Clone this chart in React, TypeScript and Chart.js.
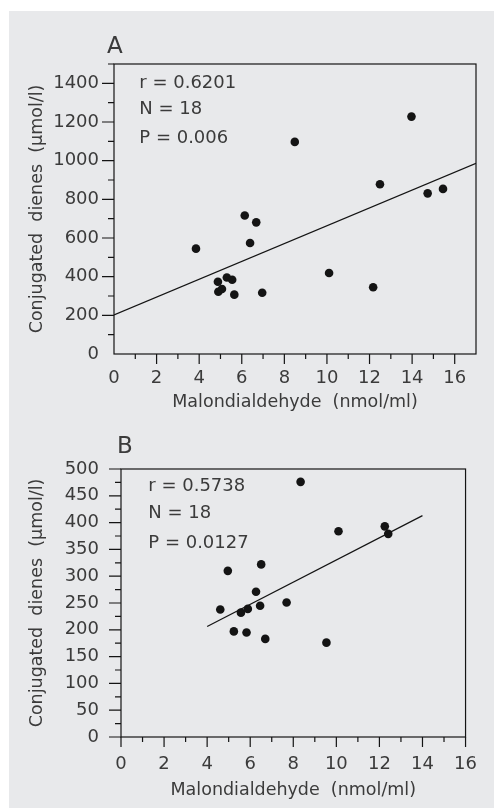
import React, { useEffect, useRef } from 'react';
import { Chart, registerables } from 'chart.js';

Chart.register(...registerables);

const FONT = '"DejaVu Sans", "Liberation Sans", sans-serif';
const TEXT = '#3b3b3b';
const INK = '#141414';

// ---- Panel A data ----
const aMda = [3.85, 4.88, 4.9, 5.07, 5.3, 5.55, 5.65, 6.14, 6.39, 6.68, 6.96, 8.49, 10.1, 12.17, 12.49, 13.97, 14.73, 15.45];
const aDienes = [545, 374, 322, 336, 396, 384, 307, 716, 574, 681, 317, 1097, 419, 345, 878, 1228, 831, 854];
const aFitX = [0, 17];
const aFitY = [202, 986];
const aStats = ['r = 0.6201', 'N = 18', 'P = 0.006'];

// ---- Panel B data ----
const bMda = [4.61, 4.96, 5.24, 5.57, 5.83, 5.89, 6.27, 6.46, 6.51, 6.7, 7.69, 8.34, 9.54, 10.1, 12.25, 12.41];
const bDienes = [238, 310, 197, 232, 195, 239, 271, 245, 322, 183, 251, 476, 176, 384, 393, 379];
const bFitX = [4, 14];
const bFitY = [206, 413];
const bStats = ['r = 0.5738', 'N = 18', 'P = 0.0127'];

const xTitle = 'Malondialdehyde  (nmol/ml)';
const yTitle = 'Conjugated  dienes  (µmol/l)';

type PanelCfg = {
  letter: string;
  xs: number[];
  ys: number[];
  fitX: number[];
  fitY: number[];
  stats: string[];
  xMax: number;
  yMax: number;
  yStep: number;
  yMajor: number;
  xTickFrom: number;
  xTickTo: number;
  yTickFrom: number;
  canvasTop: number;
  canvasH: number;
  padTop: number;
  padRight: number;
  yWidth: number;
  xHeight: number;
  yLabelPad: number;
  xLabelPad: number;
  yTitlePad: number;
  xTitlePad: number;
  letterDx: number;
  letterDy: number;
  letterSize: number;
  statsDx: number;
  statsDy: number[];
};

const panelA: PanelCfg = {
  letter: 'A', xs: aMda, ys: aDienes, fitX: aFitX, fitY: aFitY, stats: aStats,
  xMax: 17, yMax: 1500, yStep: 100, yMajor: 200,
  xTickFrom: 1, xTickTo: 16, yTickFrom: 100,
  canvasTop: 0, canvasH: 425, padTop: 64, padRight: 18, yWidth: 114, xHeight: 71,
  yLabelPad: 15, xLabelPad: 14, yTitlePad: 26.5, xTitlePad: 12.5,
  letterDx: -7, letterDy: -10.7, letterSize: 23,
  statsDx: 25.3, statsDy: [23.6, 49.6, 79],
};

const panelB: PanelCfg = {
  letter: 'B', xs: bMda, ys: bDienes, fitX: bFitX, fitY: bFitY, stats: bStats,
  xMax: 16, yMax: 500, yStep: 25, yMajor: 50,
  xTickFrom: 0, xTickTo: 16, yTickFrom: 0,
  canvasTop: 425, canvasH: 384, padTop: 44, padRight: 11, yWidth: 121, xHeight: 72,
  yLabelPad: 22, xLabelPad: 17, yTitlePad: 27, xTitlePad: 8.5,
  letterDx: -4, letterDy: -15.7, letterSize: 23,
  statsDx: 27.3, statsDy: [22.3, 48.9, 78.9],
};

function makeDecor(p: PanelCfg) {
  return {
    id: 'decor' + p.letter,
    afterDraw(chart: any) {
      const { ctx, chartArea, scales } = chart;
      const { left, right, top, bottom } = chartArea;
      const x = scales.x;
      const y = scales.y;
      ctx.save();
      ctx.strokeStyle = INK;
      ctx.lineWidth = 1.2;
      ctx.strokeRect(left, top, right - left, bottom - top);
      ctx.beginPath();
      for (let v = p.yTickFrom; v <= p.yMax + 1e-9; v += p.yStep) {
        const py = y.getPixelForValue(v);
        const len = Math.abs(v % p.yMajor) < 1e-6 ? 12 : 6;
        ctx.moveTo(left - len, py);
        ctx.lineTo(left, py);
      }
      for (let v = p.xTickFrom; v <= p.xTickTo; v += 1) {
        const px = x.getPixelForValue(v);
        const len = v % 2 === 0 ? 10 : 5;
        ctx.moveTo(px, bottom);
        ctx.lineTo(px, bottom + len);
      }
      ctx.stroke();

      ctx.fillStyle = TEXT;
      ctx.textBaseline = 'alphabetic';
      ctx.textAlign = 'left';
      ctx.font = `${p.letterSize}px ${FONT}`;
      ctx.fillText(p.letter, left + p.letterDx, top + p.letterDy);
      ctx.font = `18px ${FONT}`;
      p.stats.forEach((s, i) => {
        ctx.fillText(s, left + p.statsDx, top + p.statsDy[i]);
      });
      ctx.restore();
    },
  };
}

function Panel({ p }: { p: PanelCfg }) {
  const ref = useRef<HTMLCanvasElement>(null);
  useEffect(() => {
    const canvas = ref.current;
    if (!canvas) return;
    const points = p.xs.map((v, i) => ({ x: v, y: p.ys[i] }));
    const fit = p.fitX.map((v, i) => ({ x: v, y: p.fitY[i] }));
    const chart = new Chart(canvas, {
      type: 'scatter',
      data: {
        datasets: [
          {
            type: 'line',
            data: fit,
            borderColor: INK,
            borderWidth: 1.2,
            pointRadius: 0,
            showLine: true,
            fill: false,
          } as any,
          {
            type: 'scatter',
            data: points,
            backgroundColor: INK,
            borderColor: INK,
            borderWidth: 0,
            pointRadius: 4.3,
          } as any,
        ],
      },
      options: {
        animation: false,
        responsive: false,
        events: [],
        layout: { padding: { top: p.padTop, right: p.padRight, left: 0, bottom: 0 } },
        plugins: {
          legend: { display: false },
          tooltip: { enabled: false },
          title: { display: false },
        },
        scales: {
          x: {
            type: 'linear',
            position: 'bottom',
            min: 0,
            max: p.xMax,
            grid: { display: false, drawTicks: false },
            border: { display: false },
            ticks: {
              stepSize: 1,
              autoSkip: false,
              maxRotation: 0,
              padding: p.xLabelPad,
              color: TEXT,
              font: { family: FONT, size: 18 },
              callback: (v: any) => (Number(v) % 2 === 0 && Number(v) <= 16 ? String(v) : ''),
            },
            title: {
              display: true,
              text: xTitle,
              color: TEXT,
              font: { family: FONT, size: 17.5 },
              padding: { top: 0, bottom: p.xTitlePad },
            },
            afterFit: (s: any) => {
              s.height = p.xHeight;
            },
          },
          y: {
            type: 'linear',
            position: 'left',
            min: 0,
            max: p.yMax,
            grid: { display: false, drawTicks: false },
            border: { display: false },
            ticks: {
              stepSize: p.yStep,
              autoSkip: false,
              padding: p.yLabelPad,
              color: TEXT,
              font: { family: FONT, size: 18 },
              callback: (v: any) =>
                Math.abs(Number(v) % p.yMajor) < 1e-6 && Number(v) < p.yMax + (p.yMax % p.yMajor === 0 ? 1 : 0) ? String(v) : '',
            },
            title: {
              display: true,
              text: yTitle,
              color: TEXT,
              font: { family: FONT, size: 17.5 },
              padding: { top: p.yTitlePad, bottom: 0 },
            },
            afterFit: (s: any) => {
              s.width = p.yWidth;
            },
          },
        },
      },
      plugins: [makeDecor(p)],
    } as any);
    return () => chart.destroy();
  }, [p]);
  return (
    <canvas
      ref={ref}
      width={494}
      height={p.canvasH}
      style={{ position: 'absolute', left: 0, top: p.canvasTop, width: 494, height: p.canvasH, display: 'block' }}
    />
  );
}

export default function App() {
  return (
    <div style={{ position: 'absolute', left: 0, top: 0, width: 494, height: 809, overflow: 'hidden', background: '#ffffff' }}>
      <div style={{ position: 'absolute', left: 9, top: 11, width: 485, height: 797, background: '#e8e9eb' }} />
      <Panel p={panelA} />
      <Panel p={panelB} />
    </div>
  );
}
